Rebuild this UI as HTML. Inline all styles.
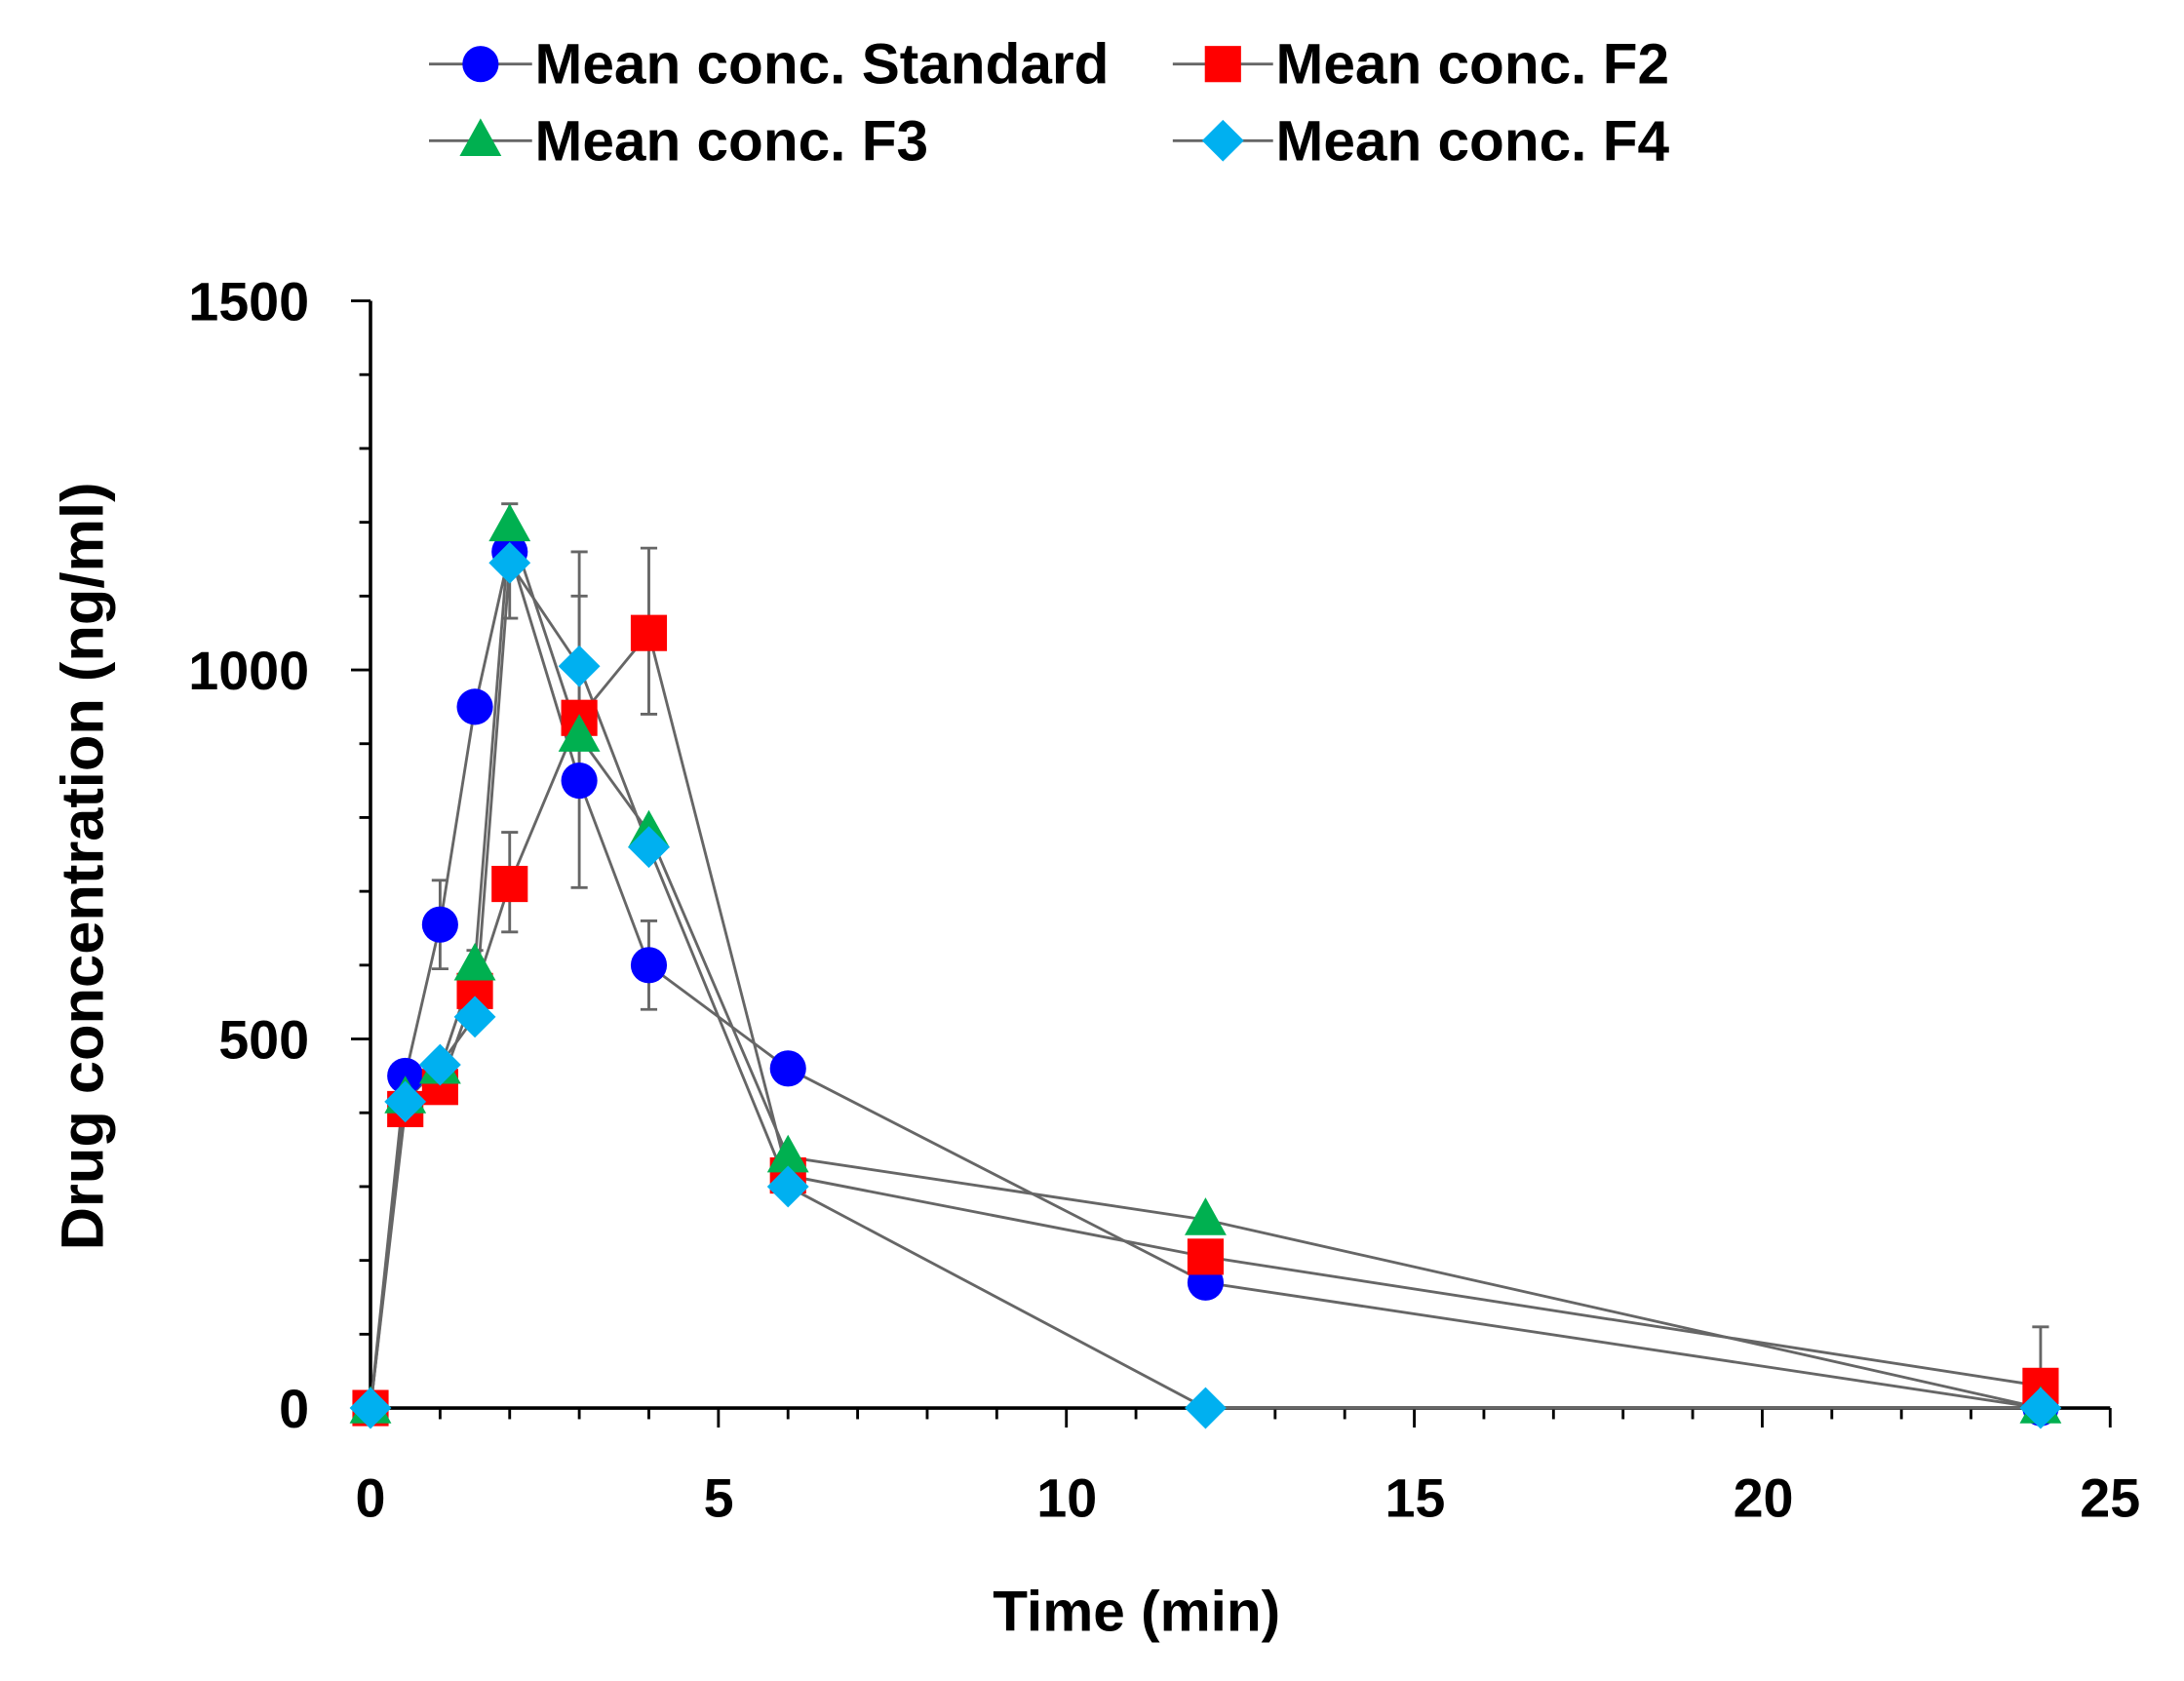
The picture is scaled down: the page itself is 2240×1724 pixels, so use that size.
<!DOCTYPE html>
<html><head><style>html,body{margin:0;padding:0;background:#fff}svg{display:block}</style></head>
<body>
<svg width="2240" height="1724" viewBox="0 0 1568 1207" preserveAspectRatio="none" xmlns="http://www.w3.org/2000/svg" font-family="Liberation Sans, sans-serif" font-weight="bold">
<g stroke="#000" stroke-width="2.5">
<line x1="266" y1="216" x2="266" y2="1011"/>
<line x1="266" y1="1011" x2="1515" y2="1011"/>
</g>
<g id="ticks" stroke="#000" stroke-width="2"></g>
<g font-size="39" fill="#000">
<text x="222" y="230" text-anchor="end">1500</text>
<text x="222" y="495" text-anchor="end">1000</text>
<text x="222" y="760" text-anchor="end">500</text>
<text x="222" y="1025" text-anchor="end">0</text>
<text x="266" y="1089" text-anchor="middle">0</text>
<text x="516" y="1089" text-anchor="middle">5</text>
<text x="766" y="1089" text-anchor="middle">10</text>
<text x="1016" y="1089" text-anchor="middle">15</text>
<text x="1266" y="1089" text-anchor="middle">20</text>
<text x="1515" y="1089" text-anchor="middle">25</text>
<text x="816" y="1171" text-anchor="middle" font-size="41">Time (min)</text>
<text transform="translate(74,622) rotate(-90)" text-anchor="middle" font-size="43">Drug concentration (ng/ml)</text>
</g>
<g id="err" stroke="#666" stroke-width="2"></g>
<g id="series"></g>
<g font-size="41" fill="#000">
<line x1="308" y1="46" x2="382" y2="46" stroke="#666" stroke-width="2"/><circle cx="345" cy="46" r="13" fill="#0000ff"/>
<text x="384" y="60">Mean conc. Standard</text>
<line x1="842" y1="46" x2="914" y2="46" stroke="#666" stroke-width="2"/><rect x="865" y="33" width="26" height="26" fill="#ff0000"/>
<text x="916" y="60">Mean conc. F2</text>
<line x1="308" y1="101" x2="382" y2="101" stroke="#666" stroke-width="2"/><polygon points="345,85 360,112 330,112" fill="#00b050"/>
<text x="384" y="115">Mean conc. F3</text>
<line x1="842" y1="101" x2="914" y2="101" stroke="#666" stroke-width="2"/><polygon points="878,86 893,101 878,116 863,101" fill="#00b0f0"/>
<text x="916" y="115">Mean conc. F4</text>
</g>
<script>
var NS="http://www.w3.org/2000/svg";
function X(t){return 266+t*49.96}function Y(v){return 1011-v*0.53}
function el(p,n,a){var e=document.createElementNS(NS,n);for(var k in a)e.setAttribute(k,a[k]);p.appendChild(e);return e}
var tk=document.getElementById('ticks');
for(var v=0;v<=1500;v+=100){var m=v%500==0;el(tk,'line',{x1:266-(m?14:8),y1:Y(v),x2:266,y2:Y(v)})}
for(var t=0;t<=25;t++){var m=t%5==0;el(tk,'line',{x1:X(t),y1:1011,x2:X(t),y2:1011+(m?14:8)})}
var er=document.getElementById('err');
[[1,595,715],[3,705,1100],[3,850,1160],[4,940,1165],[4,540,660],[2,645,780],[2,1070,1225],[24,0,110],[1.5,540,620]].forEach(function(b){
el(er,'line',{x1:X(b[0]),y1:Y(b[1]),x2:X(b[0]),y2:Y(b[2])});
el(er,'line',{x1:X(b[0])-6,y1:Y(b[1]),x2:X(b[0])+6,y2:Y(b[1])});
el(er,'line',{x1:X(b[0])-6,y1:Y(b[2]),x2:X(b[0])+6,y2:Y(b[2])});});
var T=[0,0.5,1,1.5,2,3,4,6,12,24];
var S=[
{d:[0,450,655,950,1160,850,600,460,170,0],c:'#0000ff',m:'c'},
{d:[0,405,435,565,710,935,1050,315,205,30],c:'#ff0000',m:'s'},
{d:[0,420,460,600,1195,910,780,340,255,0],c:'#00b050',m:'t'},
{d:[0,415,465,530,1145,1005,760,300,0,0],c:'#00b0f0',m:'d'}];
var sg=document.getElementById('series');
S.forEach(function(s){el(sg,'polyline',{points:T.map(function(t,i){return X(t)+','+Y(s.d[i])}).join(' '),fill:'none',stroke:'#666','stroke-width':2})});
S.forEach(function(s){T.forEach(function(t,i){var x=X(t),y=Y(s.d[i]);
if(s.m=='c')el(sg,'circle',{cx:x,cy:y,r:13,fill:s.c});
else if(s.m=='s')el(sg,'rect',{x:x-13,y:y-13,width:26,height:26,fill:s.c});
else if(s.m=='t')el(sg,'polygon',{points:(x)+','+(y-16)+' '+(x+15)+','+(y+11)+' '+(x-15)+','+(y+11),fill:s.c});
else el(sg,'polygon',{points:x+','+(y-15)+' '+(x+15)+','+y+' '+x+','+(y+15)+' '+(x-15)+','+y,fill:s.c});})});
</script>
</svg>
</body></html>
